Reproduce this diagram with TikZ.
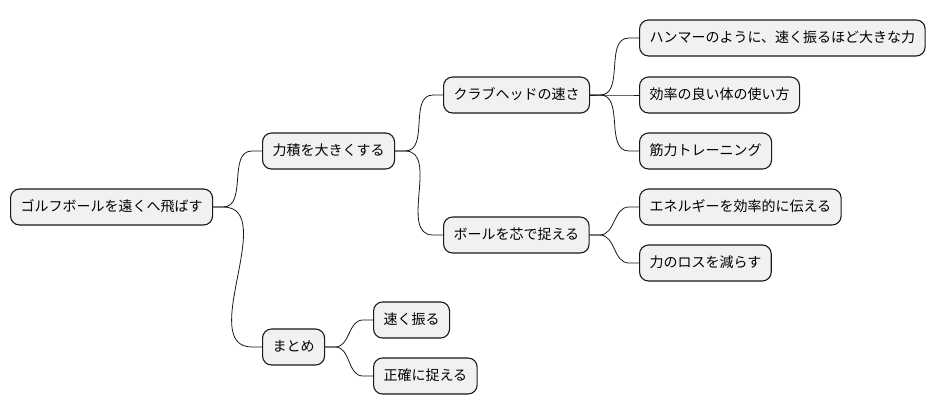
\documentclass[tikz,border=0pt]{standalone}
\usepackage{fontspec}
\setmainfont{Noto Sans CJK JP}
\definecolor{boxfill}{HTML}{F1F1F1}
\definecolor{boxline}{HTML}{181818}

\begin{document}
\begin{tikzpicture}[x=1pt, y=-1pt,
  topic/.style = {draw=boxline, fill=boxfill, rounded corners=9pt, line width=1.1pt,
    minimum height=36pt, inner xsep=10pt, text height=11pt, text depth=3pt,
    anchor=west, font=\fontsize{14}{16}\selectfont},
  branch/.style = {draw=boxline, line width=0.8pt}]
	\useasboundingbox (0,0) rectangle (936,415);

	\node[topic] (root) at (10,207) {ゴルフボールを遠くへ飛ばす};
	\node[topic] (imp) at (262,151) {力積を大きくする};
	\node[topic] (head) at (443,95) {クラブヘッドの速さ};
	\node[topic] (hammer) at (639,38) {ハンマーのように、速く振るほど大きな力};
	\node[topic] (body) at (639,95) {効率の良い体の使い方};
	\node[topic] (muscle) at (639,151) {筋力トレーニング};
	\node[topic] (core) at (443,235) {ボールを芯で捉える};
	\node[topic] (energy) at (639,207) {エネルギーを効率的に伝える};
	\node[topic] (loss) at (639,263) {力のロスを減らす};
	\node[topic] (sum) at (262,347) {まとめ};
	\node[topic] (swing) at (373,320) {速く振る};
	\node[topic] (exact) at (373,376) {正確に捉える};

	\foreach \a/\b in {root/imp, root/sum, imp/head, imp/core, head/hammer, head/body,
	                   head/muscle, core/energy, core/loss, sum/swing, sum/exact}
		\draw[branch] (\a.east) -- ++(10,0) to[out=0, in=180] ([xshift=-10pt]\b.west) -- (\b.west);
\end{tikzpicture}
\end{document}
